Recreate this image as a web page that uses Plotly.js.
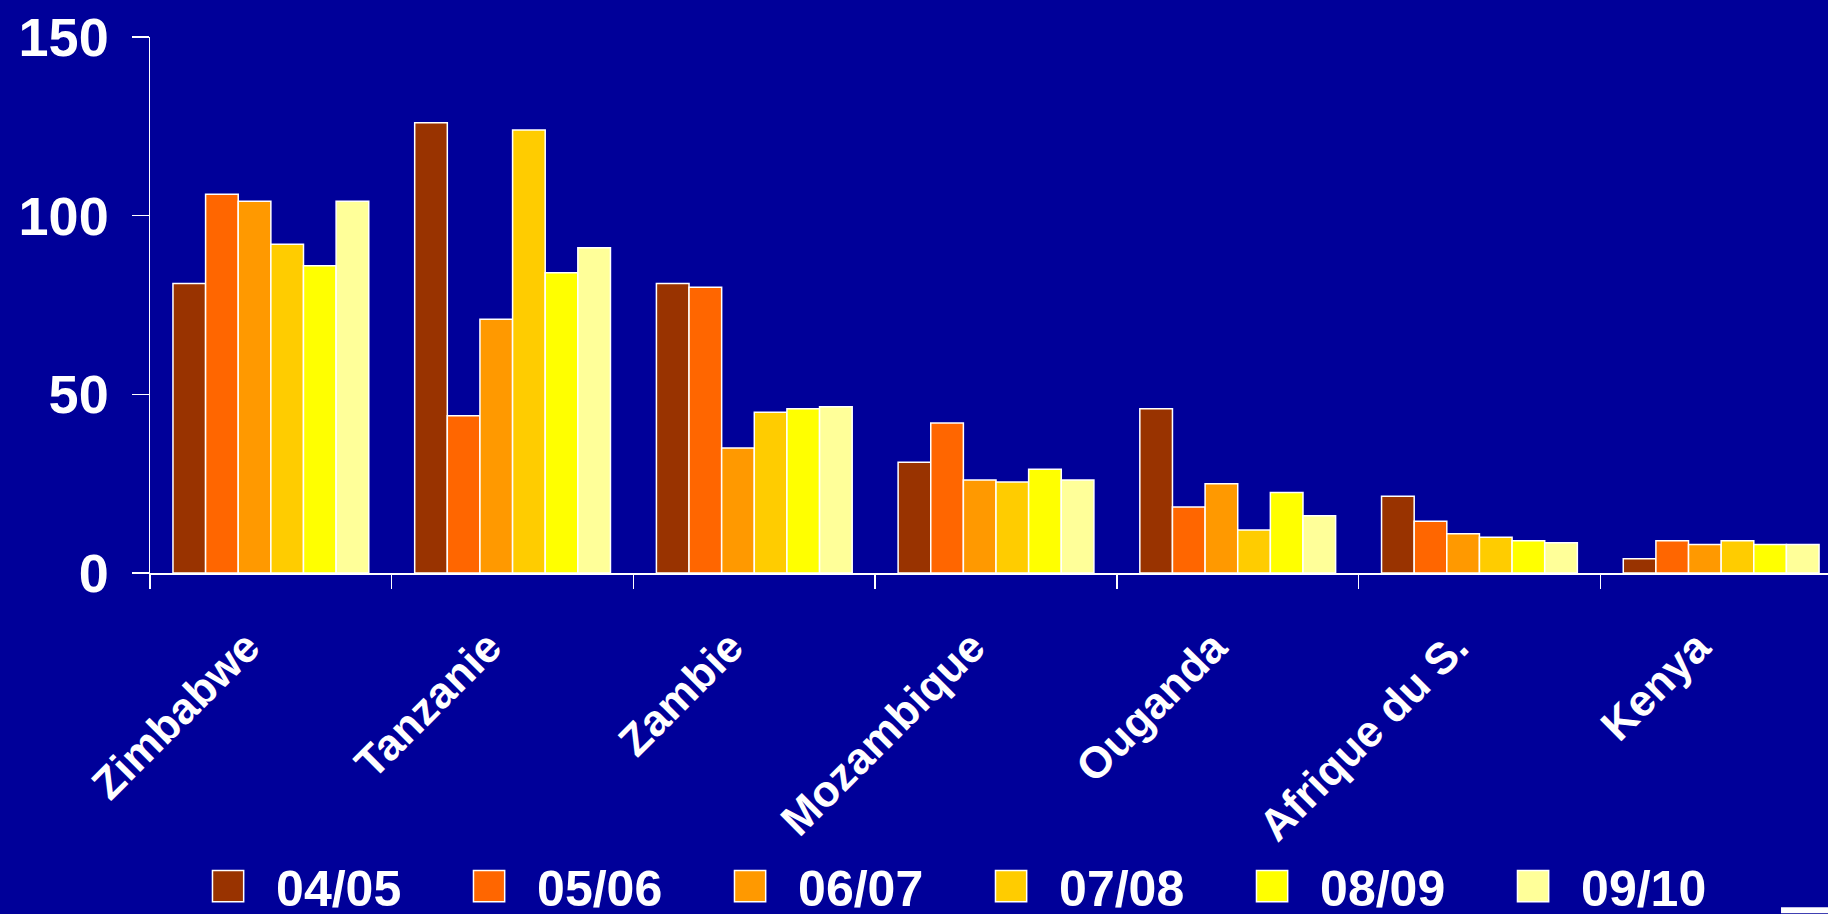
<!DOCTYPE html>
<html>
<head>
<meta charset="utf-8">
<script src="https://cdn.plot.ly/plotly-3.0.1.min.js"></script>
<style>
  html, body { margin: 0; padding: 0; background: #000099; }
  #chart { width: 1828px; height: 914px; }
</style>
</head>
<body>
<div id="chart"></div>
<script>
// Data
const countries = ["Zimbabwe", "Tanzanie", "Zambie", "Mozambique", "Ouganda", "Afrique du S.", "Kenya"];
const seasons = ["04/05", "05/06", "06/07", "07/08", "08/09", "09/10"];
const v0405 = [81, 126, 81, 31, 46, 21.5, 4];
const v0506 = [106, 44, 80, 42, 18.5, 14.5, 9];
const v0607 = [104, 71, 35, 26, 25, 11, 8];
const v0708 = [92, 124, 45, 25.5, 12, 10, 9];
const v0809 = [86, 84, 46, 29, 22.5, 9, 8];
const v0910 = [104, 91, 46.5, 26, 16, 8.5, 8];
const seriesValues = [v0405, v0506, v0607, v0708, v0809, v0910];
const colors = ["#993300", "#FF6600", "#FF9900", "#FFCC00", "#FFFF00", "#FFFF99"];
const yTicks = [0, 50, 100, 150];

const FONT = "Liberation Sans, Arial, Helvetica, sans-serif";

const traces = seasons.map((s, i) => ({
  type: "bar",
  name: s,
  x: countries,
  y: seriesValues[i],
  marker: { color: colors[i], line: { color: "#FFFFFF", width: 1.5 } }
}));

const layout = {
  width: 1828,
  height: 914,
  paper_bgcolor: "#000099",
  plot_bgcolor: "#000099",
  margin: { l: 150, r: 0, t: 37, b: 341, pad: 0 },
  barmode: "group",
  bargap: 0.19,
  bargroupgap: 0,
  showlegend: true,
  legend: {
    orientation: "h",
    xref: "container",
    yref: "container",
    x: 0.0996,
    xanchor: "left",
    y: 0.0306,
    yanchor: "middle",
    bgcolor: "rgba(0,0,0,0)",
    font: { family: FONT, size: 50, color: "#FFFFFF", weight: "bold" },
    itemwidth: 84,
    entrywidth: 162,
    entrywidthmode: "pixels",
    traceorder: "normal"
  },
  xaxis: {
    type: "category",
    range: [-0.5, 6.442],
    showline: true,
    linecolor: "#FFFFFF",
    linewidth: 1.5,
    showgrid: false,
    zeroline: false,
    ticks: "outside",
    tickson: "boundaries",
    ticklen: 14,
    tickwidth: 1.5,
    tickcolor: "#FFFFFF",
    tickangle: -45,
    tickfont: { family: FONT, size: 44, color: "#FFFFFF", weight: "bold" },
    ticklabelstandoff: 29,
    ticklabelshift: -24
  },
  yaxis: {
    range: [0, 150],
    tickvals: yTicks,
    ticktext: yTicks.map(String),
    showline: true,
    linecolor: "#FFFFFF",
    linewidth: 1.5,
    showgrid: false,
    zeroline: false,
    ticks: "outside",
    ticklen: 17,
    tickwidth: 1.5,
    tickcolor: "#FFFFFF",
    tickfont: { family: FONT, size: 54, color: "#FFFFFF", weight: "bold" },
    ticklabelstandoff: 12
  },
  shapes: [{
    type: "rect", xref: "paper", yref: "paper",
    x0: 0.972, x1: 1.0, y0: -0.635, y1: -0.6237,
    fillcolor: "#FFFFFF", line: { width: 0 }, layer: "above"
  }]
};

Plotly.newPlot("chart", traces, layout, { staticPlot: true, displayModeBar: false }).then(() => {
  // Legend boxes in the original are larger squares than Plotly's default 12px bar symbol,
  // sitting midway between the entry start and its label.
  document.querySelectorAll("#chart .legendpoints path").forEach(p => {
    p.style.transformBox = "fill-box";
    p.style.transformOrigin = "center";
    p.style.transform = "translateX(46px) scale(2.6)";
    p.style.vectorEffect = "non-scaling-stroke";
  });
});
</script>
</body>
</html>
